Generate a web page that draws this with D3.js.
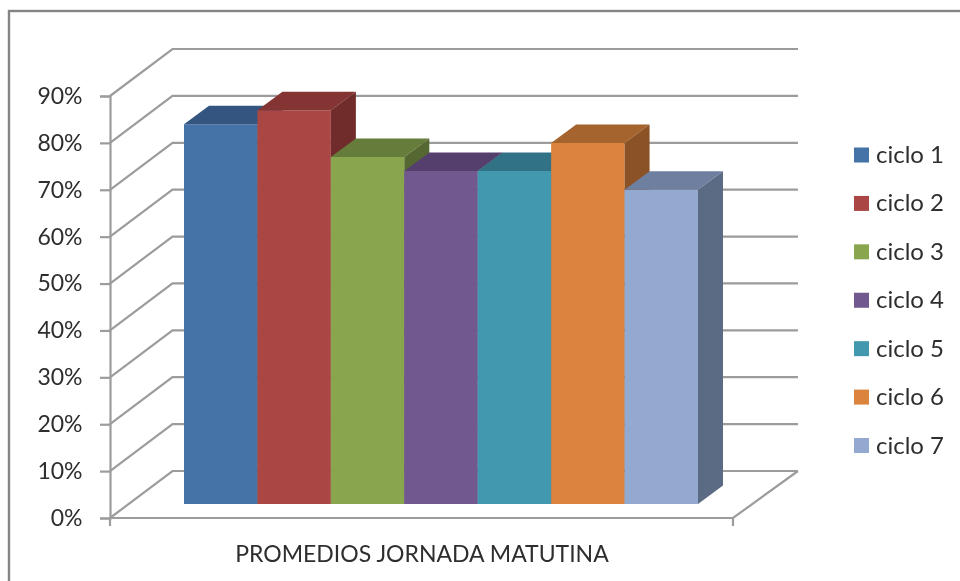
<!DOCTYPE html>
<html><head><meta charset="utf-8">
<script src="https://cdn.jsdelivr.net/npm/d3@7"></script>
<style>html,body{margin:0;padding:0;background:#fff}svg{display:block;filter:blur(0.45px)}text{font-family:Lato,"Open Sans",sans-serif;fill:#2e2e2e}</style>
</head><body><svg id="c" width="960" height="581"></svg>
<script>
const categories=["ciclo 1","ciclo 2","ciclo 3","ciclo 4","ciclo 5","ciclo 6","ciclo 7"];
const values=[0.81,0.84,0.74,0.71,0.71,0.77,0.67];
const frontColors=["#4572a7","#aa4643","#89a54e","#71588f","#4198af","#db843d","#93a9cf"];
const topColors=["#345580","#843432","#667c3a","#553f6c","#317286","#a5632e","#6f7f9f"];
const sideColors=["#2c4868","#6f2c2a","#566832","#47355a","#295f70","#8b5325","#5c6b84"];
const yTicks=[0,.1,.2,.3,.4,.5,.6,.7,.8,.9];
const axisTitle="PROMEDIOS JORNADA MATUTINA";

const svg=d3.select("#c");
const gridColor="#9c9c9c";
const y=d3.scaleLinear().domain([0,.9]).range([518,96]);
const x=d3.scaleBand().domain(categories).range([184,698]);
const wall={dx:62.5,dy:-47}, depth={dx:25,dy:-18.5}, floorShift=-14;
const x0=110, right=733, wallRight=798;

svg.append("rect").attr("x",9).attr("y",11).attr("width",960).attr("height",600)
  .attr("fill","#fff").attr("stroke","#858585").attr("stroke-width",2.4);

const line=d3.line();
svg.append("g").selectAll("path").data(yTicks).join("path")
  .attr("d",t=>line([[x0,y(t)],[x0+wall.dx,y(t)+wall.dy],[wallRight,y(t)+wall.dy]]))
  .attr("fill","none").attr("stroke",gridColor).attr("stroke-width",2.2);
svg.append("path").attr("d",line([[x0,y(0)],[right,y(0)],[wallRight,y(0)+wall.dy]]))
  .attr("fill","none").attr("stroke",gridColor).attr("stroke-width",2.2);

const ax=svg.append("g").attr("transform",`translate(${x0},0)`)
  .call(d3.axisLeft(y).tickValues(yTicks).tickFormat(d3.format(".0%")).tickSize(10).tickPadding(17.5));
ax.selectAll("path,line").attr("stroke",gridColor).attr("stroke-width",2.2);
ax.selectAll("text").attr("font-size",23).attr("font-family","Lato");
svg.selectAll("line.bt").data([x0,right]).join("line").attr("class","bt")
  .attr("x1",d=>d).attr("x2",d=>d).attr("y1",y(0)).attr("y2",y(0)+8)
  .attr("stroke",gridColor).attr("stroke-width",2.2);

const bars=svg.append("g").selectAll("g").data(categories).join("g");
bars.each(function(c,i){
  const g=d3.select(this), l=x(c), r=l+x.bandwidth(), t=y(values[i])+floorShift, b=y(0)+floorShift;
  g.append("path").attr("fill",frontColors[i])
    .attr("d",line([[l,t],[r,t],[r,b],[l,b]])+"Z");
  g.append("path").attr("fill",topColors[i])
    .attr("d",line([[l,t],[l+depth.dx,t+depth.dy],[r+depth.dx,t+depth.dy],[r,t]])+"Z");
  g.append("path").attr("fill",sideColors[i])
    .attr("d",line([[r,t],[r+depth.dx,t+depth.dy],[r+depth.dx,b+depth.dy],[r,b]])+"Z");
});

svg.append("text").attr("x",422).attr("y",562).attr("text-anchor","middle").attr("font-size",23).text(axisTitle);

const ly=d3.scaleLinear().domain([0,6]).range([155,445.5]);
const leg=svg.append("g").selectAll("g").data(categories).join("g").attr("transform",(c,i)=>`translate(854,${ly(i)})`);
leg.append("rect").attr("x",0).attr("y",-7.5).attr("width",15).attr("height",15).attr("fill",(c,i)=>frontColors[i]);
leg.append("text").attr("x",22).attr("y",8).attr("font-size",24).text(c=>c);
</script></body></html>
